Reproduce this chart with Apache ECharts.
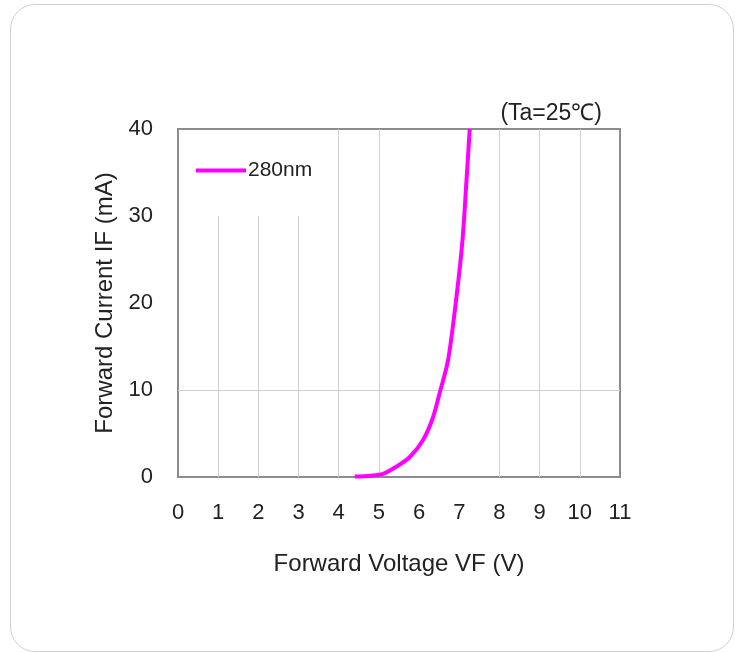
<!DOCTYPE html>
<html>
<head>
<meta charset="utf-8">
<script src="https://cdn.jsdelivr.net/npm/echarts@6/dist/echarts.min.js"></script>
<style>
  html, body { margin: 0; padding: 0; background: #fff; }
  #wrap { position: relative; width: 740px; height: 652px; overflow: hidden; }
  #card { position: absolute; left: 10px; top: 4px; width: 724px; height: 648px;
          border: 1.5px solid #d0d0d0; border-radius: 25px; box-sizing: border-box; }
  #chart { position: absolute; left: 0; top: 0; width: 740px; height: 652px; }
</style>
</head>
<body>
<div id="wrap">
  <div id="card"></div>
  <div id="chart"></div>
</div>
<script>
// Data
const seriesName = '280nm';
const voltage = [4.4, 4.8, 5.1, 5.44, 5.77, 6.1, 6.35, 6.52, 6.72, 6.92, 7.08, 7.18, 7.26];
const current = [0.05, 0.15, 0.35, 1.2, 2.3, 4.25, 6.9, 9.8, 13.4, 20.3, 27.2, 34.1, 40];
const xTicks = [0, 1, 2, 3, 4, 5, 6, 7, 8, 9, 10, 11];
const yTicks = [0, 10, 20, 30, 40];
// grid lines present in the reference
const fullGridX = [4, 5, 8, 9, 10];
const shortGridX = [1, 2, 3];
const shortGridTop = 30;
const gridY = [10];
const titleText = '(Ta=25℃)';

const xMin = xTicks[0], xMax = xTicks[xTicks.length - 1];
const yMin = yTicks[0], yMax = yTicks[yTicks.length - 1];

const gridSegments = [];
fullGridX.forEach(v => gridSegments.push([{ coord: [v, yMin] }, { coord: [v, yMax] }]));
shortGridX.forEach(v => gridSegments.push([{ coord: [v, yMin] }, { coord: [v, shortGridTop] }]));
gridY.forEach(v => gridSegments.push([{ coord: [xMin, v] }, { coord: [xMax, v] }]));

const font = '"Liberation Sans", Arial, sans-serif';
const chart = echarts.init(document.getElementById('chart'));
chart.setOption({
  animation: false,
  textStyle: { fontFamily: font },
  title: {
    text: titleText, right: 133, top: 97,
    textStyle: { fontSize: 23, fontWeight: 'normal', color: '#222', fontFamily: font }
  },
  legend: {
    data: [seriesName], left: 191, top: 155,
    icon: 'rect', itemWidth: 50, itemHeight: 4, itemGap: 2,
    textStyle: { fontSize: 21, color: '#222', fontFamily: font, padding: [0, 0, 0, -3] }
  },
  grid: {
    left: 178, top: 129, width: 442, height: 348,
    show: true, borderColor: '#8c8c8c', borderWidth: 2, backgroundColor: 'transparent'
  },
  xAxis: {
    type: 'value', min: xMin, max: xMax, interval: 1,
    name: 'Forward Voltage VF (V)', nameLocation: 'middle', nameGap: 75,
    nameTextStyle: { fontSize: 24, color: '#222', fontFamily: font },
    axisLine: { show: false }, axisTick: { show: false }, splitLine: { show: false },
    axisLabel: { fontSize: 22, color: '#222', margin: 25, fontFamily: font }
  },
  yAxis: {
    type: 'value', min: yMin, max: yMax, interval: 10,
    name: 'Forward Current IF (mA)', nameLocation: 'middle', nameGap: 58,
    nameTextStyle: { fontSize: 24, color: '#222', fontFamily: font },
    axisLine: { show: false }, axisTick: { show: false }, splitLine: { show: false },
    axisLabel: { fontSize: 22, color: '#222', margin: 25, fontFamily: font }
  },
  series: [
    {
      name: 'gridlines', type: 'line', data: [], silent: true,
      markLine: {
        silent: true, symbol: 'none', label: { show: false },
        lineStyle: { color: '#cfcfcf', width: 1, type: 'solid' },
        data: gridSegments, animation: false
      }
    },
    {
      name: seriesName, type: 'line', smooth: 0.3,
      showSymbol: false, symbol: 'none',
      data: voltage.map((v, i) => [v, current[i]]),
      lineStyle: { color: '#ff00ff', width: 4 },
      itemStyle: { color: '#ff00ff' },
      z: 5
    }
  ]
});
</script>
</body>
</html>
